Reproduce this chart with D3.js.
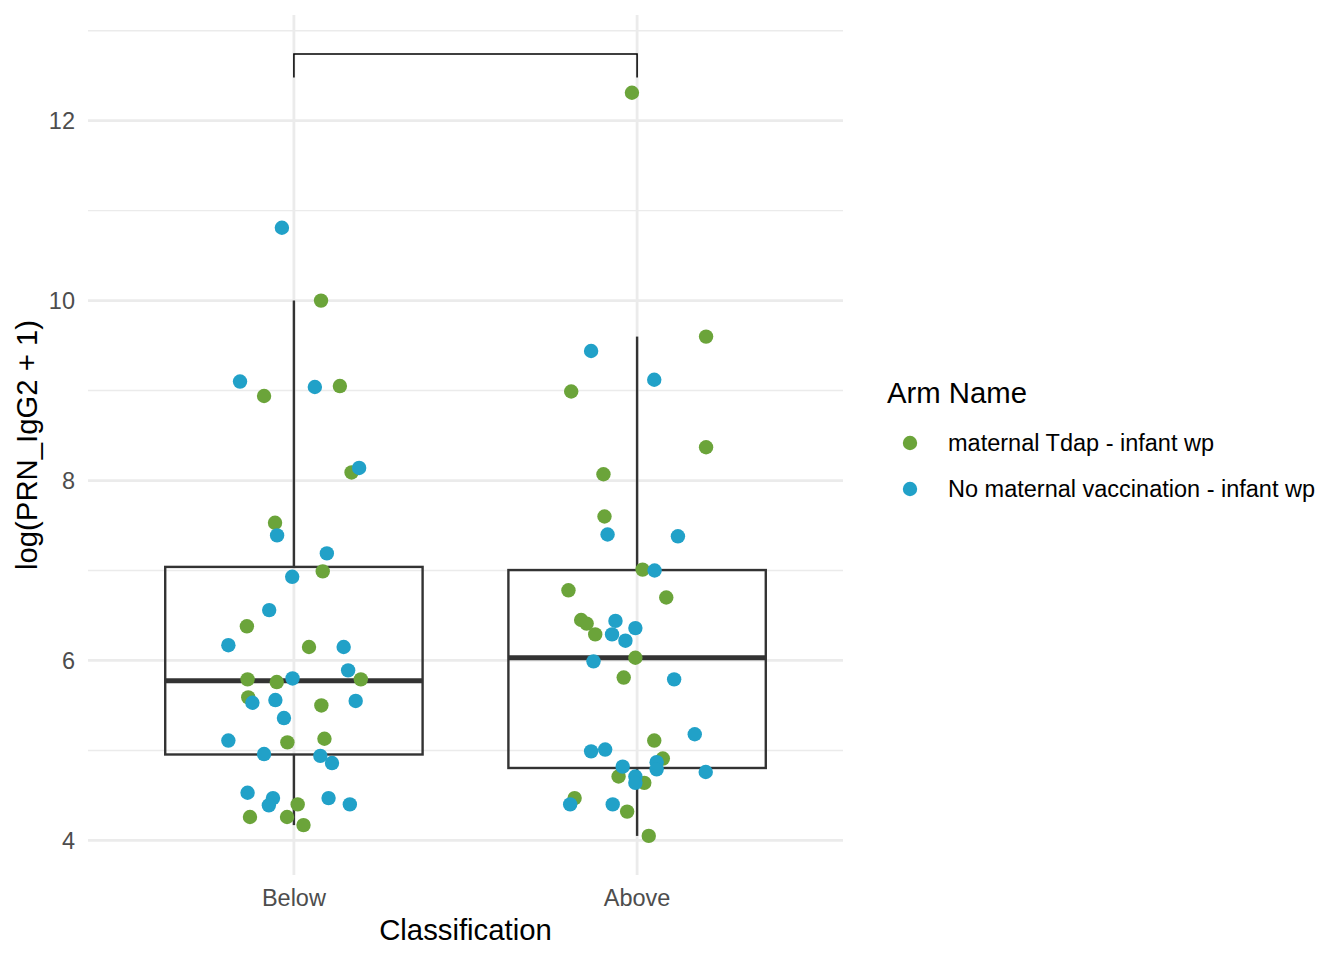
<!DOCTYPE html>
<html>
<head>
<meta charset="utf-8">
<script src="https://cdn.jsdelivr.net/npm/d3@7/dist/d3.min.js"></script>
<style>
  html, body { margin: 0; padding: 0; background: #fff; }
  svg { display: block; font-family: "Liberation Sans", Arial, Helvetica, sans-serif; }
</style>
</head>
<body>
<svg id="chart" width="1344" height="960"></svg>
<script>
// ---------------- data ----------------
const categories = ["Below", "Above"];
const arms = ["maternal Tdap - infant wp", "No maternal vaccination - infant wp"];
const armColors = ["#6BA43A", "#21A1C8"];
const yTicks = [4, 6, 8, 10, 12];
const xTitle = "Classification";
const yTitle = "log(PRN_IgG2 + 1)";
const legendTitle = "Arm Name";

// Below – maternal Tdap
const belowTdapValues = [10.00, 8.94, 9.05, 8.09, 7.53, 6.99, 6.38, 6.15, 5.79, 5.76, 5.79, 5.59, 5.50, 5.09, 5.13, 4.40, 4.26, 4.26, 4.17];
const belowTdapJitter = [0.079, -0.087, 0.134, 0.168, -0.055, 0.084, -0.137, 0.044, -0.135, -0.050, 0.195, -0.133, 0.080, -0.019, 0.089, 0.011, -0.128, -0.020, 0.028];
// Below – no maternal vaccination
const belowNoVacValues = [10.81, 9.10, 9.04, 8.14, 7.39, 7.19, 6.93, 6.56, 6.17, 6.15, 5.89, 5.80, 5.53, 5.56, 5.55, 5.36, 5.11, 4.96, 4.94, 4.86, 4.53, 4.47, 4.39, 4.47, 4.40];
const belowNoVacJitter = [-0.035, -0.157, 0.061, 0.190, -0.049, 0.096, -0.005, -0.072, -0.191, 0.145, 0.158, -0.004, -0.121, -0.054, 0.180, -0.029, -0.191, -0.087, 0.077, 0.111, -0.135, -0.061, -0.073, 0.101, 0.163];
// Above – maternal Tdap
const aboveTdapValues = [12.31, 9.60, 8.99, 8.37, 8.07, 7.60, 7.01, 6.78, 6.70, 6.45, 6.41, 6.29, 6.03, 5.81, 5.11, 4.91, 4.71, 4.64, 4.47, 4.32, 4.05];
const aboveTdapJitter = [-0.015, 0.201, -0.192, 0.201, -0.098, -0.095, 0.016, -0.200, 0.085, -0.163, -0.147, -0.122, -0.005, -0.039, 0.050, 0.075, -0.054, 0.021, -0.182, -0.029, 0.034];
// Above – no maternal vaccination
const aboveNoVacValues = [9.44, 9.12, 7.40, 7.38, 7.00, 6.44, 6.29, 6.36, 6.22, 5.99, 5.79, 5.18, 4.99, 5.01, 4.82, 4.87, 4.79, 4.76, 4.71, 4.64, 4.40, 4.40];
const aboveNoVacJitter = [-0.134, 0.050, -0.086, 0.119, 0.051, -0.063, -0.073, -0.005, -0.034, -0.127, 0.108, 0.168, -0.134, -0.093, -0.042, 0.057, 0.057, 0.200, -0.005, -0.005, -0.195, -0.071];

const bracketValue = 12.74;
const bracketTip = 0.26;

// ---------------- build ----------------
const groups = [
  { cat: 0, arm: 0, values: belowTdapValues, jitter: belowTdapJitter },
  { cat: 1, arm: 0, values: aboveTdapValues, jitter: aboveTdapJitter },
  { cat: 0, arm: 1, values: belowNoVacValues, jitter: belowNoVacJitter },
  { cat: 1, arm: 1, values: aboveNoVacValues, jitter: aboveNoVacJitter }
];
const points = [];
groups.forEach(g => g.values.forEach((v, i) => points.push({ cat: g.cat, arm: g.arm, value: v, jit: g.jitter[i] })));

const svg = d3.select("#chart");
const panel = { left: 88, right: 843, top: 15, bottom: 875 };

const allVals = points.map(p => p.value);
const lo = d3.min(allVals), hi = bracketValue;
const pad = (hi - lo) * 0.05;
const y = d3.scaleLinear().domain([lo - pad, hi + pad]).range([panel.bottom, panel.top]);
const x = d3.scaleLinear().domain([0.4, categories.length + 0.6]).range([panel.left, panel.right]);

// grid
const minorTicks = d3.range(3, 14, 2).filter(t => t > y.domain()[0] && t < y.domain()[1]);
svg.append("g").selectAll("line").data(minorTicks).join("line")
  .attr("x1", panel.left).attr("x2", panel.right)
  .attr("y1", d => y(d)).attr("y2", d => y(d))
  .attr("stroke", "#EBEBEB").attr("stroke-width", 1.4);
svg.append("g").selectAll("line").data(yTicks).join("line")
  .attr("x1", panel.left).attr("x2", panel.right)
  .attr("y1", d => y(d)).attr("y2", d => y(d))
  .attr("stroke", "#EBEBEB").attr("stroke-width", 2.8);
svg.append("g").selectAll("line").data(categories).join("line")
  .attr("x1", (d, i) => x(i + 1)).attr("x2", (d, i) => x(i + 1))
  .attr("y1", panel.top).attr("y2", panel.bottom)
  .attr("stroke", "#EBEBEB").attr("stroke-width", 2.8);

// boxplots
const boxCol = "#333333";
const unit = x(2) - x(1);
categories.forEach((c, i) => {
  const vals = points.filter(p => p.cat === i).map(p => p.value).sort(d3.ascending);
  const q1 = d3.quantileSorted(vals, 0.25), med = d3.quantileSorted(vals, 0.5), q3 = d3.quantileSorted(vals, 0.75);
  const iqr = q3 - q1;
  const upper = d3.max(vals.filter(v => v <= q3 + 1.5 * iqr));
  const lower = d3.min(vals.filter(v => v >= q1 - 1.5 * iqr));
  const cx = x(i + 1), hw = unit * 0.375;
  const g = svg.append("g");
  g.append("line").attr("x1", cx).attr("x2", cx).attr("y1", y(q3)).attr("y2", y(upper))
    .attr("stroke", boxCol).attr("stroke-width", 2.4);
  g.append("line").attr("x1", cx).attr("x2", cx).attr("y1", y(q1)).attr("y2", y(lower))
    .attr("stroke", boxCol).attr("stroke-width", 2.4);
  g.append("rect").attr("x", cx - hw).attr("width", 2 * hw)
    .attr("y", y(q3)).attr("height", y(q1) - y(q3))
    .attr("fill", "none").attr("stroke", boxCol).attr("stroke-width", 2.4);
  g.append("line").attr("x1", cx - hw).attr("x2", cx + hw).attr("y1", y(med)).attr("y2", y(med))
    .attr("stroke", boxCol).attr("stroke-width", 5);
});

// points
svg.append("g").selectAll("circle").data(points).join("circle")
  .attr("cx", d => x(d.cat + 1 + d.jit))
  .attr("cy", d => y(d.value))
  .attr("r", 7.2)
  .attr("fill", d => armColors[d.arm]);

// significance bracket
const bY = y(bracketValue), tY = y(bracketValue - bracketTip);
svg.append("path")
  .attr("d", `M${x(1)},${tY}V${bY}H${x(2)}V${tY}`)
  .attr("fill", "none").attr("stroke", "#000").attr("stroke-width", 1.5);

// axes tick labels
svg.append("g").selectAll("text").data(yTicks).join("text")
  .attr("x", 75).attr("y", d => y(d)).attr("dy", "0.36em")
  .attr("text-anchor", "end").attr("font-size", 23.5).attr("fill", "#4D4D4D")
  .text(d => d);
svg.append("g").selectAll("text").data(categories).join("text")
  .attr("x", (d, i) => x(i + 1)).attr("y", 906)
  .attr("text-anchor", "middle").attr("font-size", 23.5).attr("fill", "#4D4D4D")
  .text(d => d);

// axis titles
svg.append("text").attr("x", (panel.left + panel.right) / 2).attr("y", 940)
  .attr("text-anchor", "middle").attr("font-size", 29.3).attr("fill", "#000").text(xTitle);
svg.append("text")
  .attr("transform", `translate(37,${(panel.top + panel.bottom) / 2}) rotate(-90)`)
  .attr("text-anchor", "middle").attr("font-size", 29.3).attr("fill", "#000").text(yTitle);

// legend
const lg = svg.append("g");
lg.append("text").attr("x", 887).attr("y", 403).attr("font-size", 29.3).attr("fill", "#000").text(legendTitle);
arms.forEach((a, i) => {
  const cy = 443 + i * 46;
  lg.append("circle").attr("cx", 910).attr("cy", cy).attr("r", 7.2).attr("fill", armColors[i]);
  lg.append("text").attr("x", 948).attr("y", cy).attr("dy", "0.36em")
    .attr("font-size", 23.5).attr("fill", "#000").text(a);
});
</script>
</body>
</html>
